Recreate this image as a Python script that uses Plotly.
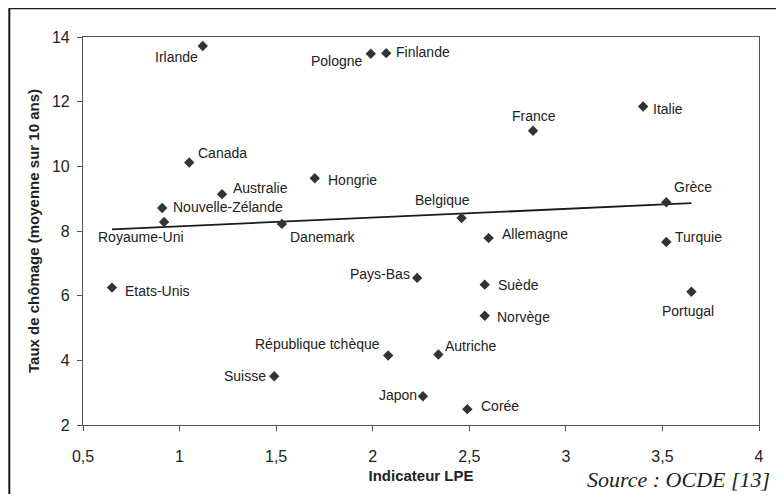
import plotly.graph_objects as go

# data
pays = ['Irlande', 'Pologne', 'Finlande', 'France', 'Italie', 'Canada', 'Hongrie',
        'Australie', 'Nouvelle-Zélande', 'Royaume-Uni', 'Danemark', 'Belgique',
        'Grèce', 'Allemagne', 'Turquie', 'Etats-Unis', 'Pays-Bas', 'Suède',
        'Portugal', 'Norvège', 'République tchèque', 'Autriche', 'Suisse',
        'Japon', 'Corée']
lpe = [1.12, 1.99, 2.07, 2.83, 3.40, 1.05, 1.70, 1.22, 0.91, 0.92, 1.53, 2.46,
       3.52, 2.60, 3.52, 0.65, 2.23, 2.58, 3.65, 2.58, 2.08, 2.34, 1.49, 2.26, 2.49]
chomage = [13.72, 13.48, 13.50, 11.10, 11.85, 10.12, 9.63, 9.14, 8.71, 8.28, 8.22,
           8.40, 8.89, 7.78, 7.66, 6.25, 6.55, 6.34, 6.12, 5.38, 4.15, 4.18, 3.51,
           2.89, 2.49]

tendance_x = [0.65, 3.65]
tendance_y = [8.05, 8.86]

# label placement: anchor, dx (px right), dy (px down)
placement = [('right', -3, 11), ('right', -6, 7), ('left', 8, -1), ('center', 1, -15),
             ('left', 8, 2), ('left', 7, -9), ('left', 11, 2), ('left', 9, -6),
             ('left', 9, -1), ('center', -23, 15), ('left', 6, 13), ('center', -19, -18),
             ('left', 6, -15), ('left', 11, -4), ('left', 7, -5), ('left', 11, 3),
             ('right', -5, -4), ('left', 11, 0), ('center', -3, 19), ('left', 10, 1),
             ('right', -6, -11), ('left', 5, -9), ('right', -6, 0), ('right', -4, -1),
             ('left', 12, -3)]

axis_col = '#5a4d5e'
font = 'Liberation Sans, Arial, sans-serif'

fig = go.Figure()
fig.add_trace(go.Scatter(
    x=tendance_x, y=tendance_y, mode='lines',
    line=dict(color='#1a1a1a', width=1.8), hoverinfo='skip'
))
fig.add_trace(go.Scatter(
    x=lpe, y=chomage, mode='markers', text=pays,
    marker=dict(symbol='diamond', size=8, color='#333333'),
))

for nom, x, y, (anc, dx, dy) in zip(pays, lpe, chomage, placement):
    fig.add_annotation(
        x=x, y=y, text=nom, showarrow=False,
        xanchor=anc, yanchor='middle', xshift=dx, yshift=-dy,
        font=dict(family=font, size=14, color='#222222')
    )

fig.add_annotation(
    xref='paper', yref='paper', x=1.019, y=-0.141, text='<i>Source : OCDE [13]</i>',
    showarrow=False, xanchor='right', yanchor='middle',
    font=dict(family='Liberation Serif, Times New Roman, serif', size=22, color='#222222')
)

# outer frame of the figure
fig.add_shape(type='rect', xref='paper', yref='paper',
              x0=-0.109, x1=1.2, y0=-0.19, y1=1.074,
              line=dict(color='#1a1a1a', width=2))

# the page body adds 8px around the figure
fig.update_layout(
    width=768, height=486,
    showlegend=False,
    dragmode=False,
    separators=', ',
    plot_bgcolor='white',
    paper_bgcolor='white',
    font=dict(family=font, color='#222222'),
    margin=dict(l=75, r=16, t=29, b=67),
    xaxis=dict(
        range=[0.5, 4], dtick=0.5, tick0=0.5, showgrid=False, zeroline=False,
        showline=True, linecolor=axis_col, linewidth=1.2, mirror=True,
        ticks='outside', ticklen=5, tickcolor=axis_col,
        ticklabelstandoff=12,
        tickfont=dict(size=16, color='#222222'),
        title=dict(text='<b>Indicateur LPE</b>', font=dict(size=15), standoff=6),
    ),
    yaxis=dict(
        range=[2, 14], dtick=2, showgrid=False, zeroline=False,
        showline=True, linecolor=axis_col, linewidth=1.2, mirror=True,
        ticks='outside', ticklen=5, tickcolor=axis_col,
        ticklabelstandoff=4,
        tickfont=dict(size=16, color='#222222'),
        title=dict(text='<b>Taux de chômage (moyenne sur 10 ans)</b>', font=dict(size=15), standoff=8),
    ),
)

fig.write_html("out.html")
